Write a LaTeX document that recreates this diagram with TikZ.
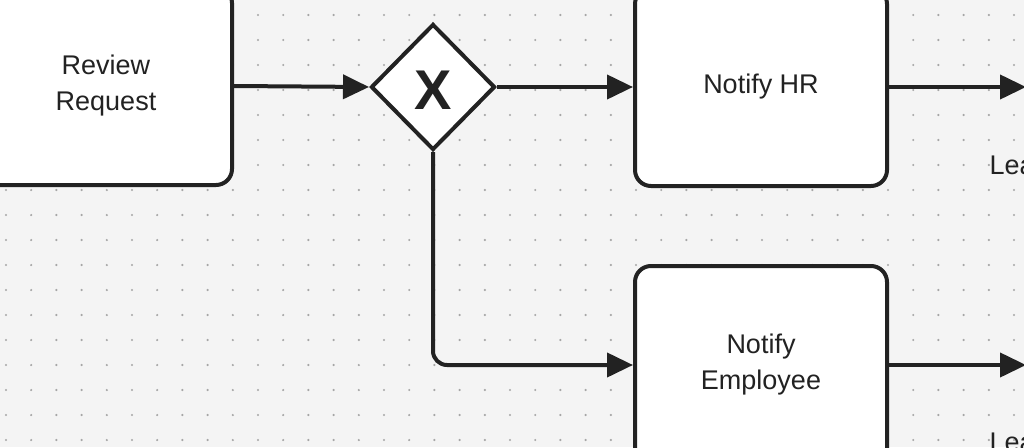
\documentclass[tikz,border=0pt]{standalone}
\usepackage{fontspec}
\setmainfont{Liberation Sans}
\usetikzlibrary{shapes.geometric,arrows.meta}
\definecolor{ink}{HTML}{222222}
\definecolor{bg}{HTML}{F4F4F4}
\begin{document}
\begin{tikzpicture}[x=1pt,y=-1pt,
  box/.style={draw=ink,line width=4pt,rounded corners=16pt,fill=white,minimum width=252pt,minimum height=198pt,align=center,font=\fontsize{27}{36}\selectfont,text=ink},
  conn/.style={draw=ink,line width=4pt,-{Triangle[length=26pt,width=24pt]}},
  lbl/.style={font=\fontsize{27}{30}\selectfont,text=ink,anchor=west}]
\useasboundingbox (0,0) rectangle (1024,447);
\fill[bg] (0,0) rectangle (1024,447);
\foreach \i in {0,...,40} \foreach \j in {0,...,17}
  \fill[gray!70] (6+25.2*\i,15+25*\j) circle (1.2pt);
\node[box] (rr) at (106,86) {Review\\Request};
\node[draw=ink,line width=4pt,fill=white,diamond,minimum width=124pt,minimum height=126pt,inner sep=0pt] (gw) at (433,87) {};
\node[font=\bfseries\fontsize{56}{56}\selectfont,text=ink] (gx) at (433,90) {X};
\node[box] (hr) at (761,87) {Notify HR};
\node[box] (ne) at (761,365) {Notify\\Employee};
\coordinate (e1) at (1026,87);
\coordinate (e2) at (1026,365);
\node[lbl] (l1) at (986,165) {Leave};
\node[lbl] (l2) at (986,442) {Leave};
\draw[conn] (rr.east) -- (gw.west);
\draw[conn] (gw.east) -- (hr.west);
\draw[conn] (hr.east) -- (e1);
\draw[conn] (ne.east) -- (e2);
\draw[conn,rounded corners=14pt] (gw.south) |- (ne.west);
\end{tikzpicture}
\end{document}
